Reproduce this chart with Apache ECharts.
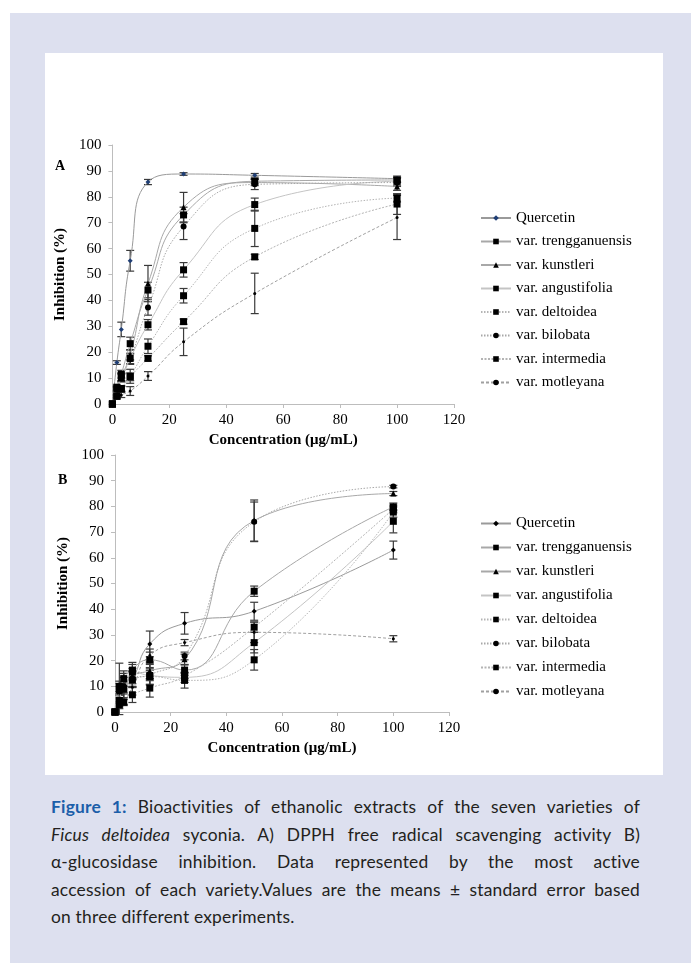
<!DOCTYPE html>
<html><head><meta charset="utf-8">
<script src="https://cdn.jsdelivr.net/npm/echarts@6/dist/echarts.min.js"></script>
<style>
html,body{margin:0;padding:0;background:#fff;width:691px;height:963px;overflow:hidden;}
#bg{position:absolute;left:10px;top:13px;width:681px;height:950px;background:#dde0ef;}
#panel{position:absolute;left:45px;top:53px;width:618px;height:722px;background:#fff;}
#chart{position:absolute;left:45px;top:53px;width:618px;height:722px;}
#cap{position:absolute;left:51px;top:793px;width:589px;font-family:Lato,"Open Sans",sans-serif;font-size:17.4px;line-height:27.5px;color:#231f20;letter-spacing:0.2px;}
#cap span{display:block;white-space:nowrap;text-align:justify;text-align-last:justify;}
#cap span.last{text-align-last:left;}
#cap b{color:#1b5ea9;}
</style></head>
<body>
<div id="bg"></div><div id="panel"></div><div id="chart"></div>
<div id="cap"><span><b>Figure 1:</b> Bioactivities of ethanolic extracts of the seven varieties of</span><span><i>Ficus deltoidea</i> syconia. A) DPPH free radical scavenging activity B)</span><span>α-glucosidase inhibition. Data represented by the most active</span><span>accession of each variety.Values are the means ± standard error based</span><span class="last">on three different experiments.</span></div>
<script>
// concentrations (µg/mL)
const conc = [0, 1.5625, 3.125, 6.25, 12.5, 25, 50, 100];
const seriesNames = ['Quercetin','var. trengganuensis','var. kunstleri','var. angustifolia','var. deltoidea','var. bilobata','var. intermedia','var. motleyana'];
const xTicks = [0, 20, 40, 60, 80, 100, 120];
const yTicks = [0, 10, 20, 30, 40, 50, 60, 70, 80, 90, 100];

// Panel A: DPPH scavenging (%)
const aQuercetin      = [0, 16.0, 28.8, 55.3, 85.7, 88.8, 88.3, 87.0];
const aTrengganuensis = [0, 6.5, 11.5, 23.3, 44.0, 73.0, 86.0, 86.5];
const aKunstleri      = [0, 6.0, 10.3, 19.0, 46.5, 76.0, 85.5, 84.0];
const aAngustifolia   = [0, 5.8, 10.0, 17.6, 30.6, 51.8, 77.0, 86.0];
const aDeltoidea      = [0, 3.0, 6.0, 10.7, 22.3, 41.8, 67.8, 79.5];
const aBilobata       = [0, 5.5, 10.5, 17.3, 37.3, 68.5, 84.8, 85.5];
const aIntermedia     = [0, 3.0, 5.8, 10.5, 17.6, 31.8, 56.8, 77.2];
const aMotleyana      = [0, 2.5, 3.5, 5.0, 10.8, 24.0, 42.7, 72.0];
// Panel A: standard errors
const aQuercetinErr      = [0, 0.7, 2.8, 4.0, 1.0, 0.5, 0.7, 1.0];
const aTrengganuensisErr = [0, 0.8, 1.5, 2.5, 3.0, 3.0, 1.0, 1.0];
const aKunstleriErr      = [0, 0.8, 1.5, 2.0, 7.0, 5.7, 1.2, 1.5];
const aAngustifoliaErr   = [0, 0.8, 1.5, 2.0, 2.0, 2.8, 2.5, 1.5];
const aDeltoideaErr      = [0, 0.5, 1.0, 2.7, 2.8, 2.8, 7.0, 1.5];
const aBilobataErr       = [0, 0.8, 1.5, 2.0, 3.0, 5.0, 2.0, 1.5];
const aIntermediaErr     = [0, 0.5, 1.0, 1.5, 1.0, 1.0, 1.0, 4.0];
const aMotleyanaErr      = [0, 0.5, 1.0, 1.7, 1.7, 5.3, 7.8, 8.5];

// Panel B: alpha-glucosidase inhibition (%)
const bQuercetin      = [0, 4.5, 9.5, 12.8, 26.5, 34.5, 39.2, 63.0];
const bTrengganuensis = [0, 10.0, 9.0, 16.3, 20.3, 16.3, 47.0, 79.8];
const bKunstleri      = [0, 8.0, 9.5, 14.0, 16.0, 20.5, 74.5, 85.0];
const bAngustifolia   = [0, 4.5, 13.0, 15.5, 14.2, 13.5, 27.0, 74.2];
const bDeltoidea      = [0, 8.5, 9.0, 12.5, 13.8, 12.3, 20.3, 77.8];
const bBilobata       = [0, 9.0, 10.0, 13.0, 14.5, 21.8, 74.0, 87.7];
const bIntermedia     = [0, 2.8, 3.8, 6.7, 9.3, 14.0, 33.0, 79.0];
const bMotleyana      = [0, 3.0, 4.0, 9.6, 22.0, 27.0, 31.0, 28.5];
// Panel B: standard errors
const bQuercetinErr      = [0, 1.0, 2.0, 3.0, 5.0, 4.2, 3.5, 3.5];
const bTrengganuensisErr = [0, 2.0, 6.0, 3.0, 3.0, 2.0, 2.0, 1.5];
const bKunstleriErr      = [0, 3.0, 4.0, 3.0, 3.0, 2.0, 8.0, 0.8];
const bAngustifoliaErr   = [0, 2.0, 3.0, 3.0, 2.0, 2.0, 4.0, 4.5];
const bDeltoideaErr      = [0, 1.5, 2.0, 3.0, 3.0, 3.0, 4.0, 2.0];
const bBilobataErr       = [0, 10.0, 5.0, 3.0, 4.0, 1.5, 7.7, 0.5];
const bIntermediaErr     = [0, 1.5, 1.0, 3.0, 3.5, 1.0, 2.0, 1.5];
const bMotleyanaErr      = [0, 1.0, 1.5, 3.0, 2.5, 1.2, 4.0, 1.2];

const aVals = [aQuercetin,aTrengganuensis,aKunstleri,aAngustifolia,aDeltoidea,aBilobata,aIntermedia,aMotleyana];
const aErrs = [aQuercetinErr,aTrengganuensisErr,aKunstleriErr,aAngustifoliaErr,aDeltoideaErr,aBilobataErr,aIntermediaErr,aMotleyanaErr];
const bVals = [bQuercetin,bTrengganuensis,bKunstleri,bAngustifolia,bDeltoidea,bBilobata,bIntermedia,bMotleyana];
const bErrs = [bQuercetinErr,bTrengganuensisErr,bKunstleriErr,bAngustifoliaErr,bDeltoideaErr,bBilobataErr,bIntermediaErr,bMotleyanaErr];

// styles
const styles = [
  {sym:'diamond', size:5, line:'#9a9a9a', type:'solid'},
  {sym:'rect', size:7, line:'#a8a8a8', type:'solid'},
  {sym:'triangle', size:6, line:'#a8a8a8', type:'solid'},
  {sym:'rect', size:7, line:'#c4c4c4', type:'solid'},
  {sym:'rect', size:7, line:'#b4b4b4', type:[1.5,1.5]},
  {sym:'circle', size:6, line:'#a8a8a8', type:[1.5,1.5]},
  {sym:'rect', size:7, line:'#b4b4b4', type:[2,1.5]},
  {sym:'circle', size:3, line:'#a0a0a0', type:[3,2]}
];
const FONT = '"Liberation Serif","Times New Roman",serif';

function errRender(params, api){
  const x = api.value(0), y = api.value(1), e = api.value(2);
  if (!e) return null;
  const t = api.coord([x, y + e]), b = api.coord([x, y - e]);
  const w = 4;
  const st = {stroke:'#3a3a3a', lineWidth:1.2};
  return {type:'group', children:[
    {type:'line', shape:{x1:t[0],y1:t[1],x2:b[0],y2:b[1]}, style:st},
    {type:'line', shape:{x1:t[0]-w,y1:t[1],x2:t[0]+w,y2:t[1]}, style:st},
    {type:'line', shape:{x1:b[0]-w,y1:b[1],x2:b[0]+w,y2:b[1]}, style:st}
  ]};
}

const series = [];
function addPanel(vals, errs, idx, suffix){
  vals.forEach((v, i) => {
    const s = styles[i];
    const mcol = (idx === 0 && i === 0) ? '#1f3e75' : '#000';
    series.push({
      type:'custom', xAxisIndex:idx, yAxisIndex:idx, silent:true, z:3,
      renderItem:errRender,
      encode:{x:0, y:1},
      data: conc.map((c, k) => [c, v[k], errs[i][k]])
    });
    series.push({
      type:'line', name: seriesNames[i] + suffix, xAxisIndex:idx, yAxisIndex:idx,
      smooth:0.5, symbol:s.sym, symbolSize:s.size, showSymbol:true, z:4,
      lineStyle:{color:s.line, width:1, type:s.type},
      itemStyle:{color:mcol, borderWidth:0},
      emphasis:{disabled:true},
      data: conc.map((c, k) => [c, v[k]])
    });
  });
}
addPanel(aVals, aErrs, 0, '');
addPanel(bVals, bErrs, 1, ' ');

function xAxis(idx){
  return {type:'value', gridIndex:idx, min:0, max:120, interval:20,
    name:'Concentration (μg/mL)', nameLocation:'middle', nameGap:29,
    nameTextStyle:{fontFamily:FONT, fontWeight:'bold', fontSize:15, color:'#000'},
    axisLine:{show:true, lineStyle:{color:'#bdbdbd'}},
    axisTick:{show:true, length:4, lineStyle:{color:'#bdbdbd'}},
    axisLabel:{fontFamily:FONT, fontSize:15, color:'#000', margin:9},
    splitLine:{show:false}};
}
function yAxis(idx){
  return {type:'value', gridIndex:idx, min:0, max:100, interval:10,
    name:'Inhibition (%)', nameLocation:'middle', nameGap:35, nameRotate:90,
    nameTextStyle:{fontFamily:FONT, fontWeight:'bold', fontSize:15, color:'#000'},
    axisLine:{show:true, lineStyle:{color:'#bdbdbd'}},
    axisTick:{show:true, length:4, lineStyle:{color:'#bdbdbd'}},
    axisLabel:{fontFamily:FONT, fontSize:15, color:'#000', margin:11},
    splitLine:{show:false}};
}
function legend(top, gap, suffix){
  return {orient:'vertical', left:435, top:top, padding:0, itemWidth:30, itemHeight:7, itemGap:gap,
    selectedMode:false, data: seriesNames.map(n => n + suffix),
    formatter: n => n.trim(),
    textStyle:{fontFamily:FONT, fontSize:15, lineHeight:15, color:'#000'}};
}

const chart = echarts.init(document.getElementById('chart'), null, {renderer:'canvas'});
chart.setOption({
  animation:false,
  backgroundColor:'transparent',
  grid:[
    {left:65, top:92, width:344, height:259},
    {left:70, top:402, width:334, height:257}
  ],
  xAxis:[xAxis(0), xAxis(1)],
  yAxis:[yAxis(0), yAxis(1)],
  legend:[legend(157.5, 8.5, ''), legend(463, 9, ' ')],
  graphic:[
    {type:'text', left:10, top:106, style:{text:'A', font:'bold 14px ' + FONT, fill:'#000'}},
    {type:'text', left:13, top:420, style:{text:'B', font:'bold 14px ' + FONT, fill:'#000'}}
  ],
  series: series
});
</script>
</body></html>
